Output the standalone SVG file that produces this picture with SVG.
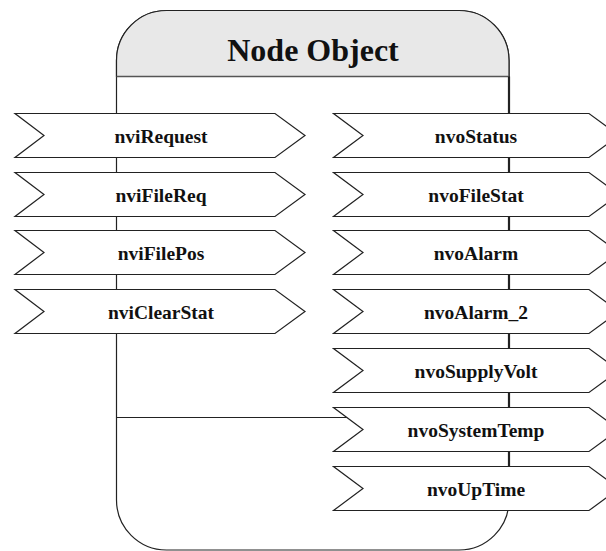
<svg xmlns="http://www.w3.org/2000/svg" width="606" height="551" viewBox="0 0 606 551">
<style>
.pen{fill:#fff;stroke:#222;stroke-width:1.2}
.lbl{font-family:"Liberation Serif","Times New Roman",serif;font-weight:bold;font-size:19.5px;fill:#111;text-anchor:middle}
.title{font-family:"Liberation Serif","Times New Roman",serif;font-weight:bold;font-size:32px;fill:#111;text-anchor:middle}
.con{stroke:#222;fill:none}
</style>
<g id="node-object">
<path d="M116.5,500 L116.5,60.5 A50,50 0 0 1 166.5,10.5 L459,10.5 A50,50 0 0 1 509,60.5 L509,500 A50,50 0 0 1 459,550 L166.5,550 A50,50 0 0 1 116.5,500 Z" fill="#fff" stroke="#222" stroke-width="1.2"/>
<path d="M116.5,76.5 L116.5,60.5 A50,50 0 0 1 166.5,10.5 L459,10.5 A50,50 0 0 1 509,60.5 L509,76.5 Z" fill="#e8e8e8" stroke="#222" stroke-width="1.2"/>
<line x1="116.5" y1="76.5" x2="509" y2="76.5" stroke="#555" stroke-width="1.5"/>
<text class="title" x="313" y="61">Node Object</text>
</g>
<g id="connectors">
<line class="con" x1="509" y1="76.5" x2="509" y2="510" stroke-width="2.2" stroke="#333"/>
<line class="con" x1="116.5" y1="417.5" x2="347" y2="417.5" stroke-width="1.2"/>
</g>
<g id="nviRequest"><path class="pen" d="M15,113.5 H275 L305,135.5 L275,157.5 H15 L44,135.5 Z"/><text class="lbl" x="161" y="142.5">nviRequest</text></g>
<g id="nviFileReq"><path class="pen" d="M15,172.5 H275 L305,194.5 L275,216.5 H15 L44,194.5 Z"/><text class="lbl" x="161" y="201.5">nviFileReq</text></g>
<g id="nviFilePos"><path class="pen" d="M15,230.5 H275 L305,252.5 L275,274.5 H15 L44,252.5 Z"/><text class="lbl" x="161" y="259.5">nviFilePos</text></g>
<g id="nviClearStat"><path class="pen" d="M15,289.5 H275 L305,311.5 L275,333.5 H15 L44,311.5 Z"/><text class="lbl" x="161" y="318.5">nviClearStat</text></g>
<g id="nvoStatus"><path class="pen" d="M333.5,113.5 H589 L619,135.5 L589,157.5 H333.5 L363,135.5 Z"/><text class="lbl" x="476" y="142.5">nvoStatus</text></g>
<g id="nvoFileStat"><path class="pen" d="M333.5,172.5 H589 L619,194.5 L589,216.5 H333.5 L363,194.5 Z"/><text class="lbl" x="476" y="201.5">nvoFileStat</text></g>
<g id="nvoAlarm"><path class="pen" d="M333.5,230.5 H589 L619,252.5 L589,274.5 H333.5 L363,252.5 Z"/><text class="lbl" x="476" y="259.5">nvoAlarm</text></g>
<g id="nvoAlarm_2"><path class="pen" d="M333.5,289.5 H589 L619,311.5 L589,333.5 H333.5 L363,311.5 Z"/><text class="lbl" x="476" y="318.5">nvoAlarm_2</text></g>
<g id="nvoSupplyVolt"><path class="pen" d="M333.5,348.5 H589 L619,370.5 L589,392.5 H333.5 L363,370.5 Z"/><text class="lbl" x="476" y="377.5">nvoSupplyVolt</text></g>
<g id="nvoSystemTemp"><path class="pen" d="M333.5,407.5 H589 L619,429.5 L589,451.5 H333.5 L363,429.5 Z"/><text class="lbl" x="476" y="436.5">nvoSystemTemp</text></g>
<g id="nvoUpTime"><path class="pen" d="M333.5,466.5 H589 L619,488.5 L589,510.5 H333.5 L363,488.5 Z"/><text class="lbl" x="476" y="495.5">nvoUpTime</text></g>
</svg>
